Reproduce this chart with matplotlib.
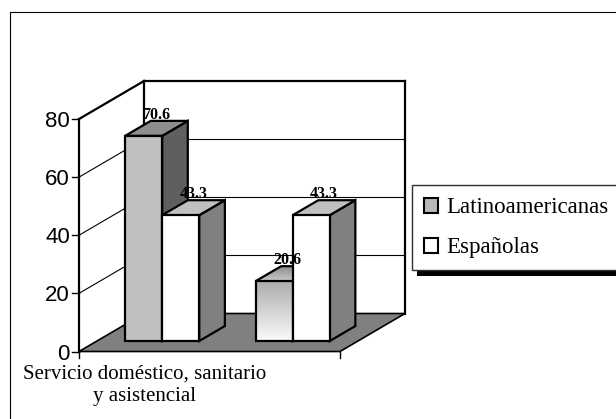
import numpy as np
import matplotlib.pyplot as plt
from matplotlib.patches import Polygon, Rectangle, Patch
from matplotlib.transforms import IdentityTransform
from matplotlib.colors import LinearSegmentedColormap
from matplotlib.font_manager import FontProperties

# data
categories = ["Servicio doméstico, sanitario\ny asistencial", ""]
series = ["Latinoamericanas", "Españolas"]
latino = [70.6, 20.6]
espanolas = [43.3, 43.3]
yticks = [0, 20, 40, 60, 80]

W, H = 616, 419
SERIF = "Liberation Serif"
SANS = "Liberation Sans"

fig = plt.figure(figsize=(W / 100, H / 100), dpi=100)
ax = fig.add_axes([0, 0, 1, 1])
ax.axis("off")

# scale: pixels per category and per value unit, origin of the front floor
px_x, px_y = 130.5, 2.906
x0_px, y0_px = 79, 351.5
ax.set_xlim(-x0_px / px_x, (W - x0_px) / px_x)
ax.set_ylim(-(H - y0_px) / px_y, y0_px / px_y)

# oblique depth offset (full depth of floor) in data units
DX, DY = 65 / px_x, 38 / px_y
D0, D1 = 0.276, 0.67  # bar depth range
BW = 0.284            # bar width (category units)
ncat = len(categories)
ymax = yticks[-1]


def P(x, y, d):
    return (x + d * DX, y + d * DY)


# floor
floor = [P(0, 0, 0), P(ncat, 0, 0), P(ncat, 0, 1), P(0, 0, 1)]
ax.add_patch(Polygon(floor, fc="#808080", ec="black", lw=1.2, zorder=1))

# walls
back = [P(0, 0, 1), P(ncat, 0, 1), P(ncat, ymax, 1), P(0, ymax, 1)]
ax.add_patch(Polygon(back, fc="white", ec="none", zorder=0.5))
side = [P(0, 0, 0), P(0, 0, 1), P(0, ymax, 1), P(0, ymax, 0)]
ax.add_patch(Polygon(side, fc="white", ec="none", zorder=0.5))

# gridlines on back and side wall
for v in yticks[1:-1]:
    xs, ys = zip(P(0, v, 1), P(ncat, v, 1))
    ax.plot(xs, ys, color="black", lw=0.8, zorder=1.5)
    xs, ys = zip(P(0, v, 0), P(0, v, 1))
    ax.plot(xs, ys, color="black", lw=0.8, zorder=1.5)

# wall frame
for a, b in [(P(0, 0, 0), P(0, ymax, 0)), (P(0, ymax, 0), P(0, ymax, 1)),
             (P(0, ymax, 1), P(ncat, ymax, 1)), (P(ncat, ymax, 1), P(ncat, 0, 1)),
             (P(0, 0, 1), P(0, ymax, 1))]:
    ax.plot([a[0], b[0]], [a[1], b[1]], color="black", lw=1.6, zorder=1.6,
            solid_capstyle="projecting")

# ticks
for v in yticks:
    ax.plot([-7 / px_x, 0], [v, v], color="black", lw=1, zorder=1.6)
    ax.text(-9 / px_x, v, str(v), ha="right", va="center_baseline", fontsize=16,
            family=SANS, zorder=2)
for c in [0, ncat]:
    ax.plot([c, c], [0, -6 / px_y], color="black", lw=1, zorder=1.6)

for i, lab in enumerate(categories):
    ax.text(i + 0.5, -(365 - y0_px) / px_y, lab, ha="center", va="top",
            fontsize=15, family=SERIF, linespacing=1.2)

grad_front = LinearSegmentedColormap.from_list("gf", ["#FAFAFA", "#ADADAD"])
grad_top = LinearSegmentedColormap.from_list("gt", ["#C8C8C8", "#8C8C8C"])

# style per bar: (front, top, side, gradient)
styles = [
    [("#C0C0C0", "#8E8E8E", "#5F5F5F", False), ("#C0C0C0", "#8E8E8E", "#5F5F5F", True)],
    [("white", "#C0C0C0", "#808080", False), ("white", "#C0C0C0", "#808080", False)],
]

z = 3.0
for i in range(ncat):
    for s, vals in enumerate([latino, espanolas]):
        v = vals[i]
        fc, tc, sc, grad = styles[s][i]
        xl = i + 0.5 - BW + s * BW
        xr = xl + BW
        front = [P(xl, 0, D0), P(xr, 0, D0), P(xr, v, D0), P(xl, v, D0)]
        top = [P(xl, v, D0), P(xr, v, D0), P(xr, v, D1), P(xl, v, D1)]
        sidef = [P(xr, 0, D0), P(xr, 0, D1), P(xr, v, D1), P(xr, v, D0)]
        for k, (pts, col, cm) in enumerate([(sidef, sc, None), (top, tc, grad_top),
                                             (front, fc, grad_front)]):
            zz = z + k * 0.01
            if grad and cm is not None:
                poly = Polygon(pts, fc="none", ec="black", lw=1.6, zorder=zz + 0.005,
                               joinstyle="miter")
                ax.add_patch(poly)
                xs = [p[0] for p in pts]
                ys = [p[1] for p in pts]
                img = ax.imshow(np.linspace(1, 0, 64).reshape(-1, 1), cmap=cm,
                                extent=(min(xs), max(xs), min(ys), max(ys)),
                                aspect="auto", zorder=zz, interpolation="bilinear")
                bg = Polygon(pts, fc="none", ec="none", zorder=zz)
                ax.add_patch(bg)
                img.set_clip_path(bg)
            else:
                ax.add_patch(Polygon(pts, fc=col, ec="black", lw=1.6, zorder=zz,
                                     joinstyle="miter"))
        z += 0.1

# data labels
for i in range(ncat):
    for s, vals in enumerate([latino, espanolas]):
        v = vals[i]
        xc = i + 0.5 - BW / 2 + s * BW + (D0 + D1) / 2 * DX
        ax.text(xc, v + D1 * DY - 0.7, f"{v}", ha="center", va="bottom",
                fontsize=11.5, fontweight="bold", family=SERIF, zorder=10)

ax.set_xlim(-x0_px / px_x, (W - x0_px) / px_x)
ax.set_ylim(-(H - y0_px) / px_y, y0_px / px_y)

# legend
handles = [Patch(fc="#B8B8B8", ec="black", lw=1.5), Patch(fc="white", ec="black", lw=1.5)]
leg = ax.legend(handles, series, loc="upper left",
                bbox_to_anchor=(411.5 / W, 1 - 185 / H), bbox_transform=fig.transFigure,
                borderaxespad=0, prop=FontProperties(family=SERIF, size=16.5),
                fancybox=False, framealpha=1, edgecolor="#303030",
                handlelength=0.62, handleheight=0.62, handletextpad=0.35,
                labelspacing=0.83, borderpad=0.53)
leg.get_frame().set_linewidth(1.0)
leg.set_zorder(20)

fig.canvas.draw()
bb = leg.get_window_extent()
ax.add_patch(Rectangle((bb.x0 + 5, bb.y0 - 6), bb.width, bb.height, fc="black",
                       ec="none", transform=IdentityTransform(), zorder=19,
                       clip_on=False))

# outer chart border
fig.add_artist(Rectangle((9.5, -10), 800, H - 12 + 10, fill=False, ec="black",
                         lw=0.8, transform=IdentityTransform()))

fig.savefig("out.png", dpi=100)
